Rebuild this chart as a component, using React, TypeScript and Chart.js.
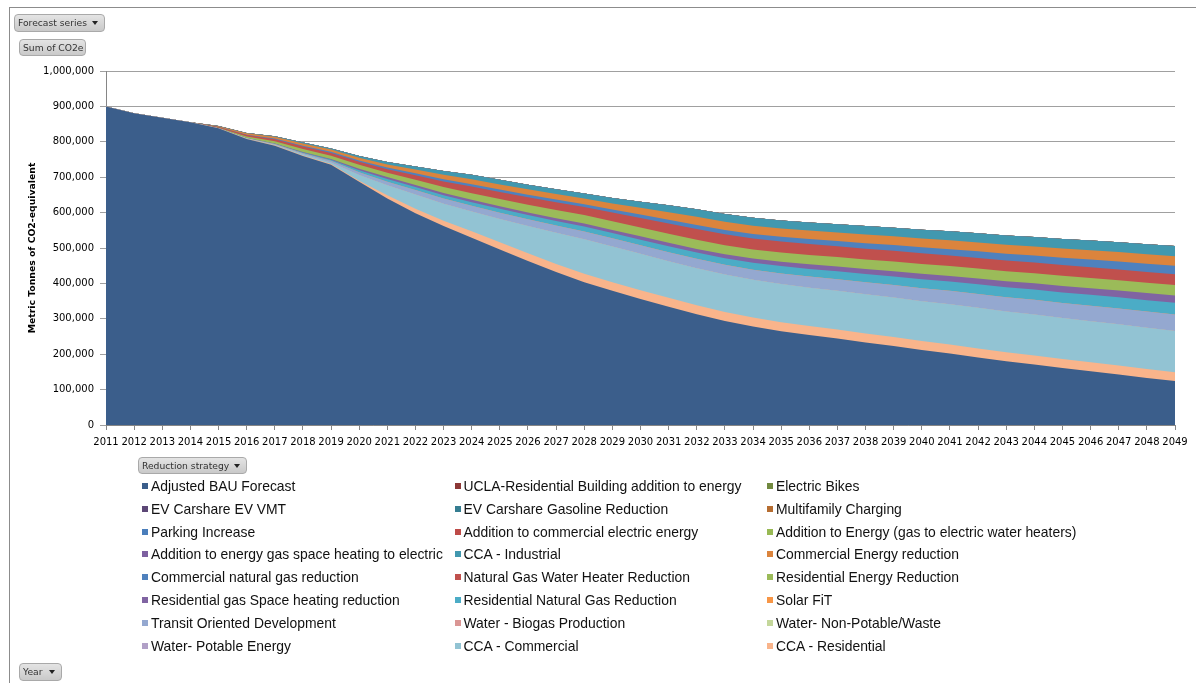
import React, { useEffect, useRef } from 'react';
import { Chart, registerables } from 'chart.js';

Chart.register(...registerables);

const YEARS = [
  '2011', '2012', '2013', '2014', '2015', '2016', '2017', '2018', '2019', '2020',
  '2021', '2022', '2023', '2024', '2025', '2026', '2027', '2028', '2029', '2030',
  '2031', '2032', '2033', '2034', '2035', '2036', '2037', '2038', '2039', '2040',
  '2041', '2042', '2043', '2044', '2045', '2046', '2047', '2048', '2049',
];

// All series in thousand metric tonnes of CO2e, one value per year 2011-2049
const adjustedBau = [900, 881, 868, 855, 838, 808, 789, 760, 735, 687, 640, 598, 562, 529, 496, 463, 432, 403, 379, 356, 334, 313, 294, 278, 265, 254, 244, 233, 223, 212, 202, 191, 180, 171, 161, 152, 143, 133, 124];
const uclaResidential = [0, 0, 0, 0, 0, 0, 0, 0, 0, 0, 0, 0, 0, 0, 0, 0, 0, 0, 0, 0, 0, 0, 0, 0, 0, 0, 0, 0, 0, 0, 0, 0, 0, 0, 0, 0, 0, 0, 0];
const electricBikes = [0, 0, 0, 0, 0, 0, 0, 0, 0, 0, 0, 0, 0, 0, 0, 0, 0, 0, 0, 0, 0, 0, 0, 0, 0, 0, 0, 0, 0, 0, 0, 0, 0, 0, 0, 0, 0, 0, 0];
const evCarshareVmt = [0, 0, 0, 0, 0, 0, 0, 0, 0, 0, 0, 0, 0, 0, 0, 0, 0, 0, 0, 0, 0, 0, 0, 0, 0, 0, 0, 0, 0, 0, 0, 0, 0, 0, 0, 0, 0, 0, 0];
const evCarshareGasoline = [0, 0, 0, 0, 0, 0, 0, 0, 0, 0, 0, 0, 0, 0, 0, 0, 0, 0, 0, 0, 0, 0, 0, 0, 0, 0, 0, 0, 0, 0, 0, 0, 0, 0, 0, 0, 0, 0, 0];
const multifamilyCharging = [0, 0, 0, 0, 0, 0, 0, 0, 0, 0, 0, 0, 0, 0, 0, 0, 0, 0, 0, 0, 0, 0, 0, 0, 0, 0, 0, 0, 0, 0, 0, 0, 0, 0, 0, 0, 0, 0, 0];
const parkingIncrease = [0, 0, 0, 0, 0, 0, 0, 0, 0, 0, 0, 0, 0, 0, 0, 0, 0, 0, 0, 0, 0, 0, 0, 0, 0, 0, 0, 0, 0, 0, 0, 0, 0, 0, 0, 0, 0, 0, 0];
const commercialElectricAddition = [0, 0, 0, 0, 0, 0, 0, 0, 0, 0, 0, 0, 0, 0, 0, 0, 0, 0, 0, 0, 0, 0, 0, 0, 0, 0, 0, 0, 0, 0, 0, 0, 0, 0, 0, 0, 0, 0, 0];
const electricWaterHeaterAddition = [0, 0, 0, 0, 0, 0, 0, 0, 0, 0, 0, 0, 0, 0, 0, 0, 0, 0, 0, 0, 0, 0, 0, 0, 0, 0, 0, 0, 0, 0, 0, 0, 0, 0, 0, 0, 0, 0, 0];
const electricSpaceHeatingAddition = [0, 0, 0, 0, 0, 0, 0, 0, 0, 0, 0, 0, 0, 0, 0, 0, 0, 0, 0, 0, 0, 0, 0, 0, 0, 0, 0, 0, 0, 0, 0, 0, 0, 0, 0, 0, 0, 0, 0];
const ccaIndustrial = [0, 0, 0, 0, 0.5, 1, 2, 3, 3, 5.5, 7, 8.5, 10.5, 12.3, 12.8, 13.2, 13.6, 14, 15, 17.2, 19.3, 21, 21.5, 22, 22.4, 22.9, 23.4, 23.9, 24.4, 24.9, 25.4, 25.9, 26.4, 26.8, 27.2, 27.6, 28, 28.3, 28.6];
const commercialEnergy = [0, 0, 0, 0.5, 2, 4, 5, 6, 6.6, 7.3, 8.5, 10.5, 12.5, 14.1, 14.6, 15.1, 15.6, 16, 17, 19.3, 21.3, 23, 23.2, 23.4, 23.7, 23.9, 24.1, 24.3, 24.5, 24.8, 25, 25.2, 25.5, 25.7, 25.9, 26.2, 26.5, 26.7, 27];
const commercialNaturalGas = [0, 0, 0, 0, 0.5, 1, 1.5, 2.5, 3, 3.8, 4.5, 5.2, 6, 6.6, 7, 7.4, 7.7, 8, 8.8, 9.6, 10.5, 11.3, 12, 12.7, 13.4, 14.1, 14.8, 15.6, 16.3, 17, 17.7, 18.4, 19.1, 19.9, 20.7, 21.5, 22.3, 23.1, 24];
const gasWaterHeater = [0, 0, 0, 0, 1.5, 4, 6, 7, 8, 8.5, 10, 13, 16, 18.8, 20, 21, 22, 23, 24.5, 27, 29.5, 31, 31, 30.9, 30.8, 30.7, 30.6, 30.5, 30.4, 30.3, 30.2, 30.1, 30, 30.1, 30.2, 30.3, 30.4, 30.5, 30.5];
const residentialEnergy = [0, 0, 0, 0, 2, 4, 6, 8, 9.4, 11, 12, 14.5, 16.8, 18.8, 20.3, 21.7, 22.9, 24, 24.5, 25, 25.3, 25.6, 25.8, 26.1, 26.3, 26.6, 26.8, 27.1, 27.3, 27.6, 27.8, 28.1, 28.3, 28.5, 28.7, 28.9, 29.1, 29.3, 29.5];
const residentialGasHeating = [0, 0, 0, 0, 0, 0.5, 1, 1.5, 2, 4.5, 5.8, 6.2, 6.4, 6.6, 7, 7.4, 7.8, 8.4, 9, 9.5, 9.9, 10.3, 10.9, 11.5, 12.2, 12.8, 13.4, 14, 14.6, 15.3, 15.9, 16.5, 17.1, 17.7, 18.3, 18.8, 19.4, 19.9, 20.5];
const residentialNaturalGas = [0, 0, 0, 0, 0, 0.5, 1, 2, 3, 5.5, 7.5, 8.5, 9.5, 10.4, 11.3, 12.2, 13.1, 14, 15, 15.9, 16.8, 17.8, 18.7, 19.6, 20.6, 21.5, 22.5, 23.4, 24.4, 25.3, 26.3, 27.2, 28.1, 29, 29.8, 30.6, 31.4, 32.2, 33];
const solarFit = [0, 0, 0, 0, 0, 0, 0, 0, 0, 0, 0, 0, 0, 0, 0, 0, 0, 0, 0, 0, 0, 0, 0, 0, 0, 0, 0, 0, 0, 0, 0, 0, 0, 0, 0, 0, 0, 0, 0];
const transitOriented = [0, 0, 0, 0, 0, 1, 2, 3.5, 4.7, 8, 10.5, 12.5, 14.5, 16, 17.5, 19, 20.3, 21.5, 22.7, 24, 25.2, 26.3, 27.6, 28.9, 30.2, 31.5, 32.8, 34.1, 35.4, 36.7, 38, 39.3, 40.6, 41.7, 42.8, 43.9, 45, 46, 47];
const waterBiogas = [0, 0, 0, 0, 0, 0, 0, 0, 0, 0, 0, 0, 0, 0, 0, 0, 0, 0, 0, 0, 0, 0, 0, 0, 0, 0, 0, 0, 0, 0, 0, 0, 0, 0, 0, 0, 0, 0, 0];
const waterNonPotable = [0, 0, 0, 0, 0, 0, 0, 0, 0, 0, 0, 0, 0, 0, 0, 0, 0, 0, 0, 0, 0, 0, 0, 0, 0, 0, 0, 0, 0, 0, 0, 0, 0, 0, 0, 0, 0, 0, 0];
const waterPotable = [0, 0, 0, 0, 0, 0, 0, 0, 0, 0, 0, 0, 0, 0, 0, 0, 0, 0, 0, 0, 0, 0, 0, 0, 0, 0, 0, 0, 0, 0, 0, 0, 0, 0, 0, 0, 0, 0, 0];
const ccaCommercial = [0, 0, 0, 0, 0, 0.5, 1.5, 3, 4.5, 16, 28, 40, 48, 56, 66, 77, 88, 98, 101, 102.5, 103.5, 104.5, 105.5, 106.5, 107.5, 108.5, 109.5, 110.5, 111.5, 112.5, 113.5, 114.5, 115, 115.5, 115.8, 116, 116.2, 116.4, 116.5];
const ccaResidential = [0, 0, 0, 0, 0, 0.5, 1, 1.5, 2, 3, 9, 13, 15, 18, 20, 22, 23, 24, 24.5, 25, 25.3, 25.5, 25.5, 25.5, 25.5, 25.5, 25.5, 25.5, 25.5, 25.4, 25.4, 25.4, 25.3, 25.3, 25.2, 25.2, 25.1, 25.1, 25];

const SERIES_NAMES = [
  'Adjusted BAU Forecast',
  'UCLA-Residential Building addition to energy',
  'Electric Bikes',
  'EV Carshare EV VMT',
  'EV Carshare Gasoline Reduction',
  'Multifamily Charging',
  'Parking Increase',
  'Addition to commercial electric energy',
  'Addition to Energy (gas to electric water heaters)',
  'Addition to energy gas space heating to electric',
  'CCA - Industrial',
  'Commercial Energy reduction',
  'Commercial natural gas reduction',
  'Natural Gas Water Heater Reduction',
  'Residential Energy Reduction',
  'Residential gas Space heating reduction',
  'Residential Natural Gas Reduction',
  'Solar FiT',
  'Transit Oriented Development',
  'Water - Biogas Production',
  'Water- Non-Potable/Waste',
  'Water- Potable Energy',
  'CCA - Commercial',
  'CCA - Residential',
];

const SERIES_VALUES = [
  adjustedBau, uclaResidential, electricBikes, evCarshareVmt, evCarshareGasoline,
  multifamilyCharging, parkingIncrease, commercialElectricAddition, electricWaterHeaterAddition,
  electricSpaceHeatingAddition, ccaIndustrial, commercialEnergy, commercialNaturalGas,
  gasWaterHeater, residentialEnergy, residentialGasHeating, residentialNaturalGas, solarFit,
  transitOriented, waterBiogas, waterNonPotable, waterPotable, ccaCommercial, ccaResidential,
];

const SERIES_COLORS = [
  '#3B5E8B', '#8C3836', '#71893F', '#5C4776', '#357D91', '#B66D31',
  '#4A7EBB', '#BE4B48', '#98B954', '#7D60A0', '#4198AF', '#DB843D',
  '#4F81BD', '#C0504D', '#9BBB59', '#8064A2', '#4BACC6', '#F79646',
  '#94A8D0', '#DA9694', '#C4D79B', '#B1A0C7', '#92C3D3', '#F9B48B',
];

// The BAU forecast sits at the bottom; the strategies stack on it in reverse list order
const STACK_ORDER = [0, 23, 22, 21, 20, 19, 18, 17, 16, 15, 14, 13, 12, 11, 10, 9, 8, 7, 6, 5, 4, 3, 2, 1];

const Y_TICK_STEP = 100000;
const Y_MAX = 1000000;

const TICK_FONT = { family: 'DejaVu Sans', size: 10 };

const buttonStyle: React.CSSProperties = {
  position: 'absolute',
  boxSizing: 'border-box',
  background: 'linear-gradient(#e4e4e4, #c9c9c9)',
  border: '1px solid #a9a9a9',
  borderRadius: 4,
  fontFamily: '"DejaVu Sans", sans-serif',
  fontSize: 9.2,
  color: '#333',
  paddingLeft: 3,
  whiteSpace: 'nowrap',
};

const arrowStyle: React.CSSProperties = {
  position: 'absolute',
  width: 0,
  height: 0,
  borderLeft: '3.5px solid transparent',
  borderRight: '3.5px solid transparent',
  borderTop: '4px solid #222',
};

function FieldButton(props: { text: string; left: number; top: number; width: number; height: number; arrow?: boolean }) {
  const { text, left, top, width, height, arrow } = props;
  return (
    <div style={{ ...buttonStyle, left, top, width, height, lineHeight: `${height - 2}px` }}>
      {text}
      {arrow ? <div style={{ ...arrowStyle, right: 6, top: (height - 2) / 2 - 2 }} /> : null}
    </div>
  );
}

export default function App() {
  const canvasRef = useRef<HTMLCanvasElement | null>(null);

  useEffect(() => {
    const canvas = canvasRef.current;
    if (!canvas) return;

    const datasets = STACK_ORDER.map((i) => ({
      label: SERIES_NAMES[i],
      data: SERIES_VALUES[i].map((v) => v * 1000),
      backgroundColor: SERIES_COLORS[i],
      borderColor: SERIES_COLORS[i],
      borderWidth: 0,
      pointRadius: 0,
      pointHoverRadius: 0,
      fill: 'origin' as const,
      tension: 0,
    }));

    const chart = new Chart(canvas, {
      type: 'line',
      data: { labels: YEARS, datasets },
      options: {
        animation: false,
        responsive: false,
        maintainAspectRatio: false,
        devicePixelRatio: 1,
        events: [],
        layout: { padding: { left: 0, top: 71, right: 21, bottom: 228 } },
        plugins: {
          legend: { display: false },
          tooltip: { enabled: false },
        },
        scales: {
          x: {
            type: 'category',
            offset: false,
            grid: { drawOnChartArea: false, drawTicks: true, tickLength: 5, color: '#868686' },
            border: { color: '#868686' },
            ticks: {
              autoSkip: false,
              maxRotation: 0,
              minRotation: 0,
              padding: 6,
              color: '#000',
              font: TICK_FONT,
            },
            afterFit: (scale: any) => {
              scale.height = 30;
            },
          },
          y: {
            stacked: true,
            min: 0,
            max: Y_MAX,
            grid: { color: '#a0a0a0', tickLength: 6 },
            border: { color: '#868686' },
            ticks: {
              stepSize: Y_TICK_STEP,
              padding: 6,
              color: '#000',
              font: TICK_FONT,
              callback: (v: any) => Number(v).toLocaleString('en-US'),
            },
            title: {
              display: true,
              text: 'Metric Tonnes of CO2-equivalent',
              color: '#000',
              font: { family: 'DejaVu Sans', size: 9.3, weight: 'bold' },
              padding: { top: 27.5, bottom: 0 },
            },
            afterFit: (scale: any) => {
              scale.width = 106;
            },
          },
        },
      },
    });

    return () => {
      chart.destroy();
    };
  }, []);

  return (
    <div style={{ position: 'absolute', left: 0, top: 0, width: 1196, height: 683, overflow: 'hidden', background: '#fff' }}>
      <div
        style={{
          position: 'absolute',
          left: 9,
          top: 7,
          width: 1300,
          height: 800,
          borderLeft: '1px solid #8c8c8c',
          borderTop: '1px solid #8c8c8c',
        }}
      />
      <canvas
        ref={canvasRef}
        width={1196}
        height={683}
        style={{ position: 'absolute', left: 0, top: 0, width: 1196, height: 683, display: 'block' }}
      />
      <FieldButton text="Forecast series" left={14} top={14} width={91} height={18} arrow />
      <FieldButton text="Sum of CO2e" left={19} top={39} width={67} height={17} />
      <FieldButton text="Reduction strategy" left={138} top={457} width={109} height={17} arrow />
      <FieldButton text="Year" left={19} top={663} width={43} height={18} arrow />
      {SERIES_NAMES.map((name, i) => {
        const col = i % 3;
        const row = Math.floor(i / 3);
        const left = 142 + col * 312.5;
        const top = 478 + row * 22.8;
        return (
          <div key={name} style={{ position: 'absolute', left, top, height: 16, whiteSpace: 'nowrap' }}>
            <div
              style={{
                position: 'absolute',
                left: 0,
                top: 5,
                width: 6,
                height: 6,
                background: SERIES_COLORS[i],
              }}
            />
            <div
              style={{
                position: 'absolute',
                left: 9,
                top: 0,
                lineHeight: '16px',
                fontFamily: '"Liberation Sans", Arial, sans-serif',
                fontSize: 13.9,
                color: '#111',
              }}
            >
              {name}
            </div>
          </div>
        );
      })}
    </div>
  );
}
